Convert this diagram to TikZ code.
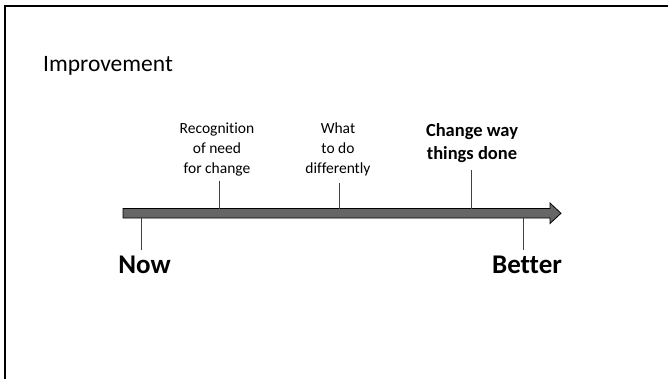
\documentclass[tikz,border=0pt]{standalone}
\usepackage{fontspec}
\setmainfont[Ligatures=NoCommon]{Carlito}
\begin{document}
\begin{tikzpicture}[x=1pt,y=-1pt,
  lbl/.style={font=\fontsize{15.5}{20}\selectfont, align=center, anchor=base, inner sep=0pt},
  blbl/.style={font=\fontsize{18.5}{23}\selectfont\bfseries, align=center, anchor=base, inner sep=0pt},
  endlbl/.style={font=\fontsize{27}{30}\selectfont\bfseries, anchor=base, inner sep=0pt},
  tick/.style={draw=black!75, line width=0.9pt}]
\useasboundingbox (0,0) rectangle (668,379);
\begin{scope}
\clip (0,0) rectangle (668,379);
\draw[line width=2pt, black] (5,400) -- (5,6) -- (700,6);
\end{scope}
\node[anchor=base west, inner sep=0pt, font=\fontsize{23.5}{28}\selectfont] (title) at (43,72) {Improvement};
% arrow
\path[fill=black!60, draw=black, line width=0.8pt]
  (123,208.5) -- (550,208.5) -- (550,203) -- (561,213.3) -- (550,223.5) -- (550,218) -- (123,218) -- cycle;
\coordinate (a1) at (219,208.5);
\coordinate (a2) at (339,208.5);
\coordinate (a3) at (471,208.5);
\coordinate (b1) at (141,218);
\coordinate (b2) at (523,218);
\coordinate (t1) at (219,181);
\coordinate (t2) at (339,183);
\coordinate (t3) at (471,170);
\coordinate (u1) at (141,250);
\coordinate (u2) at (523,250);
\draw[tick] (t1) -- (a1);
\draw[tick] (t2) -- (a2);
\draw[tick] (t3) -- (a3);
\draw[tick] (b1) -- (u1);
\draw[tick] (b2) -- (u2);
\node[lbl] (rec) at (217,174) {Recognition\\of need\\for change};
\node[lbl] (what) at (338,174) {What\\to do\\differently};
\node[blbl] (chg) at (472,160) {Change way\\things done};
\node[endlbl] (now) at (144.5,273) {Now};
\node[endlbl] (bet) at (527,273) {Better};
\end{tikzpicture}
\end{document}
